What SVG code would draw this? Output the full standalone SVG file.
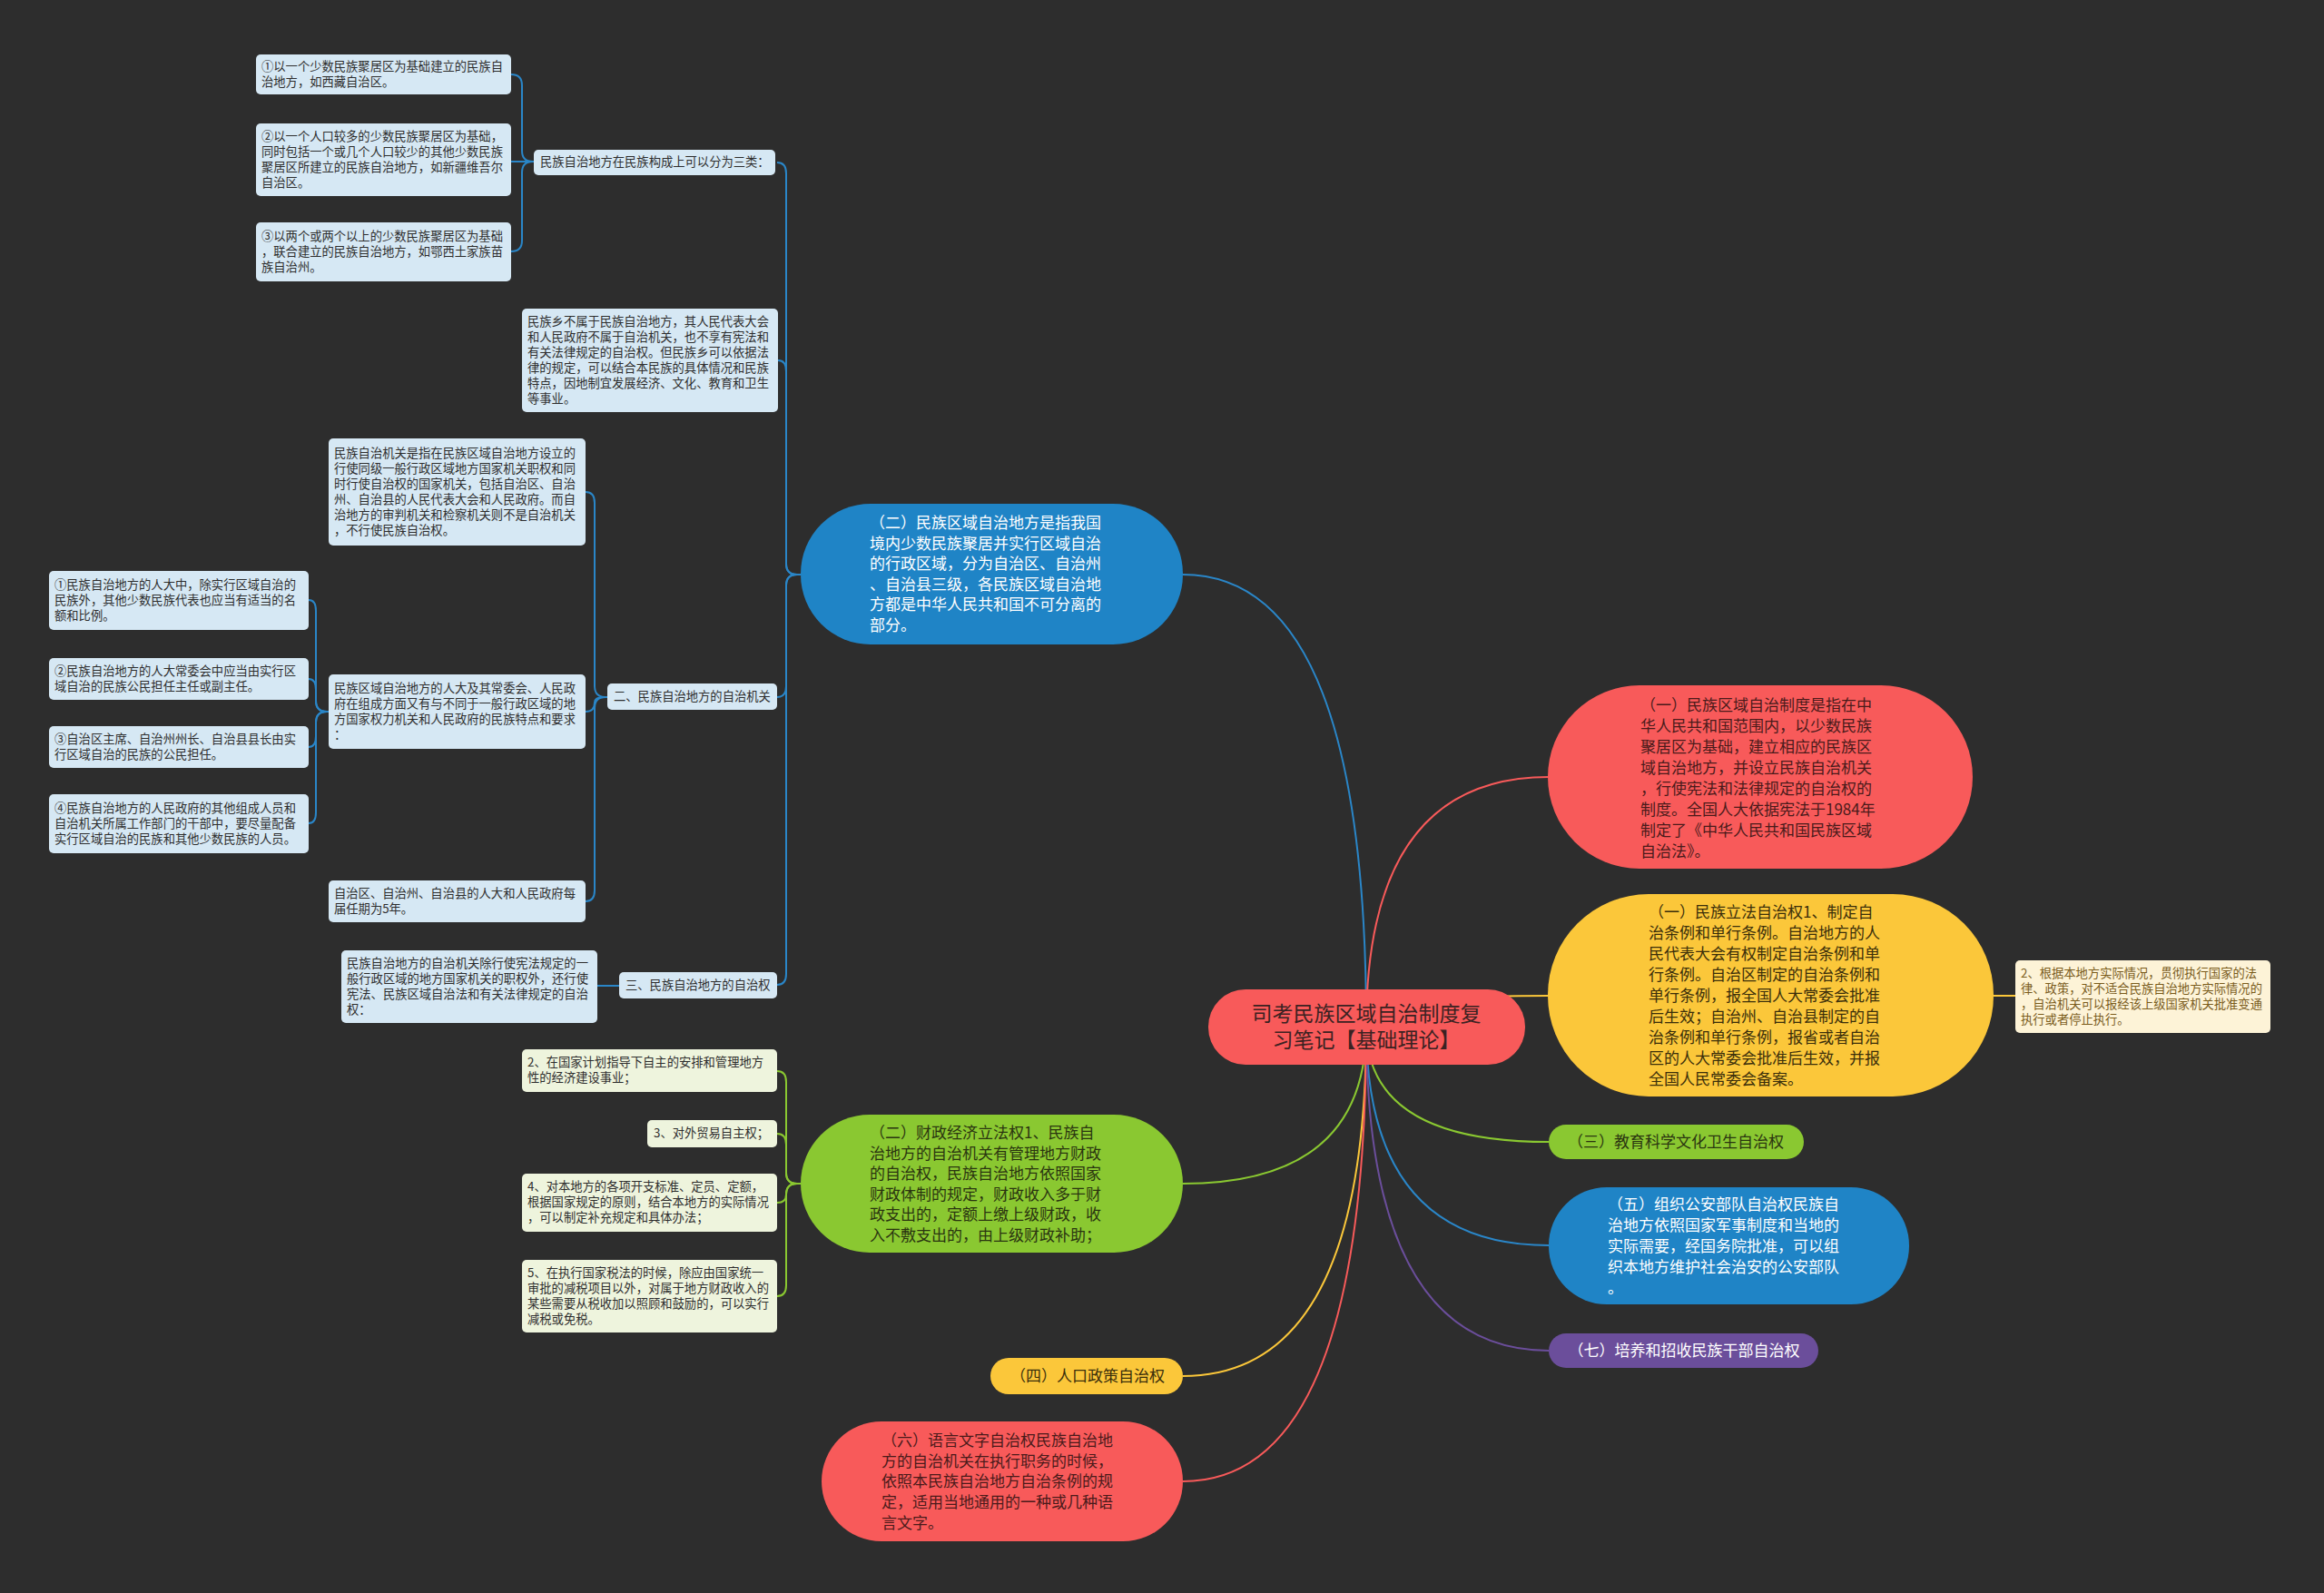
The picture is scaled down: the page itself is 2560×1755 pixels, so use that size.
<svg xmlns="http://www.w3.org/2000/svg" width="2560" height="1755" viewBox="0 0 2560 1755">
<style>
text{font-family:"Noto Sans CJK SC","Noto Sans",sans-serif}
.lb{fill:#d6e8f4}
.lg{fill:#eef4dd}
.t13{font-size:13.3px;fill:#2e2e2e}
.t17{font-size:17px}
.cb{fill:none;stroke:#2a86c8;stroke-width:2}
.cg{fill:none;stroke:#8ac831;stroke-width:2}
.cy{fill:none;stroke:#fbc73a;stroke-width:2}
.cr{fill:none;stroke:#f85a5a;stroke-width:2}
.cp{fill:none;stroke:#6b4e9b;stroke-width:2}
</style>
<rect x="0" y="0" width="2560" height="1755" fill="#2d2d2d"/>
<g id="connectors">
<path class="cb" d="M1505,1131 Q1505,633 1303,633"/>
<path class="cg" d="M1505,1131 Q1505,1304 1303,1304"/>
<path class="cy" d="M1505,1131 Q1505,1516 1303,1516"/>
<path class="cr" d="M1505,1131 Q1505,1632 1303,1632"/>
<path class="cr" d="M1505,1131 Q1505,856 1706,856"/>
<path class="cy" d="M1505,1131 Q1505,1097 1706,1097"/>
<path class="cg" d="M1505,1131 Q1505,1258 1706,1258"/>
<path class="cb" d="M1505,1131 Q1505,1372 1706,1372"/>
<path class="cp" d="M1505,1131 Q1505,1488 1706,1488"/>
<path class="cy" d="M2196,1097 L2220,1097"/>
<path class="cb" d="M856,179 Q866,179 866,191 L866,621 Q866,633 878,633 L882,633"/>
<path class="cb" d="M857,397 Q866,397 866,409 L866,621 Q866,633 878,633 L882,633"/>
<path class="cb" d="M856,768 Q866,768 866,756 L866,645 Q866,633 878,633 L882,633"/>
<path class="cb" d="M856,1085 Q866,1085 866,1073 L866,645 Q866,633 878,633 L882,633"/>
<path class="cb" d="M563,82 Q575,82 575,94 L575,166 Q575,178 587,178 L588,178"/>
<path class="cb" d="M563,178 L588,178"/>
<path class="cb" d="M563,277 Q575,277 575,265 L575,190 Q575,178 587,178 L588,178"/>
<path class="cb" d="M645,542 Q655,542 655,554 L655,756 Q655,768 667,768 L669,768"/>
<path class="cb" d="M645,784 Q655,784 655,774 Q655,768 665,768 L669,768"/>
<path class="cb" d="M645,993 Q655,993 655,981 L655,780 Q655,768 667,768 L669,768"/>
<path class="cb" d="M340,661 Q348,661 348,673 L348,772 Q348,784 360,784 L362,784"/>
<path class="cb" d="M340,748 Q348,748 348,760 L348,772 Q348,784 360,784 L362,784"/>
<path class="cb" d="M340,823 Q348,823 348,811 L348,796 Q348,784 360,784 L362,784"/>
<path class="cb" d="M340,907 Q348,907 348,895 L348,796 Q348,784 360,784 L362,784"/>
<path class="cb" d="M658,1086 L682,1086"/>
<path class="cg" d="M856,1180 Q866,1180 866,1192 L866,1292 Q866,1304 878,1304 L882,1304"/>
<path class="cg" d="M856,1249 Q866,1249 866,1261 L866,1292 Q866,1304 878,1304 L882,1304"/>
<path class="cg" d="M856,1325 Q866,1325 866,1316 Q866,1304 878,1304 L882,1304"/>
<path class="cg" d="M856,1428 Q866,1428 866,1416 L866,1316 Q866,1304 878,1304 L882,1304"/>
</g>
<g id="root">
<rect x="1331" y="1090" width="349" height="83" rx="41" fill="#f85a5a"/>
<text x="1505" y="1125" font-size="23" fill="#3b2222" text-anchor="middle">司考民族区域自治制度复</text>
<text x="1505" y="1154" font-size="23" fill="#3b2222" text-anchor="middle">习笔记【基础理论】</text>
</g>
<g id="n-blue-main">
<rect x="882" y="555" width="421" height="155" rx="77" fill="#1f84c6"/>
<text class="t17" fill="#ffffff" x="958" y="582">（二）民族区域自治地方是指我国</text>
<text class="t17" fill="#ffffff" x="958" y="604.5">境内少数民族聚居并实行区域自治</text>
<text class="t17" fill="#ffffff" x="958" y="627">的行政区域，分为自治区、自治州</text>
<text class="t17" fill="#ffffff" x="958" y="649.5">、自治县三级，各民族区域自治地</text>
<text class="t17" fill="#ffffff" x="958" y="672">方都是中华人民共和国不可分离的</text>
<text class="t17" fill="#ffffff" x="958" y="694.5">部分。</text>
</g>
<g id="p1">
<rect class="lb" x="588" y="165" width="266" height="28" rx="5"/>
<text class="t13" x="595" y="183">民族自治地方在民族构成上可以分为三类：</text>
</g>
<g id="l1">
<rect class="lb" x="282" y="60" width="281" height="44" rx="5"/>
<text class="t13" x="288" y="78">①以一个少数民族聚居区为基础建立的民族自</text>
<text class="t13" x="288" y="95">治地方，如西藏自治区。</text>
</g>
<g id="l2">
<rect class="lb" x="282" y="136" width="281" height="80" rx="5"/>
<text class="t13" x="288" y="155">②以一个人口较多的少数民族聚居区为基础，</text>
<text class="t13" x="288" y="172">同时包括一个或几个人口较少的其他少数民族</text>
<text class="t13" x="288" y="189">聚居区所建立的民族自治地方，如新疆维吾尔</text>
<text class="t13" x="288" y="206">自治区。</text>
</g>
<g id="l3">
<rect class="lb" x="282" y="245" width="281" height="65" rx="5"/>
<text class="t13" x="288" y="265">③以两个或两个以上的少数民族聚居区为基础</text>
<text class="t13" x="288" y="282">，联合建立的民族自治地方，如鄂西土家族苗</text>
<text class="t13" x="288" y="299">族自治州。</text>
</g>
<g id="n1">
<rect class="lb" x="575" y="340" width="282" height="114" rx="5"/>
<text class="t13" x="581" y="359">民族乡不属于民族自治地方，其人民代表大会</text>
<text class="t13" x="581" y="376">和人民政府不属于自治机关，也不享有宪法和</text>
<text class="t13" x="581" y="393">有关法律规定的自治权。但民族乡可以依据法</text>
<text class="t13" x="581" y="410">律的规定，可以结合本民族的具体情况和民族</text>
<text class="t13" x="581" y="427">特点，因地制宜发展经济、文化、教育和卫生</text>
<text class="t13" x="581" y="444">等事业。</text>
</g>
<g id="n2">
<rect class="lb" x="362" y="483" width="283" height="118" rx="5"/>
<text class="t13" x="368" y="504">民族自治机关是指在民族区域自治地方设立的</text>
<text class="t13" x="368" y="521">行使同级一般行政区域地方国家机关职权和同</text>
<text class="t13" x="368" y="538">时行使自治权的国家机关，包括自治区、自治</text>
<text class="t13" x="368" y="555">州、自治县的人民代表大会和人民政府。而自</text>
<text class="t13" x="368" y="572">治地方的审判机关和检察机关则不是自治机关</text>
<text class="t13" x="368" y="589">，不行使民族自治权。</text>
</g>
<g id="n3">
<rect class="lb" x="362" y="743" width="283" height="82" rx="5"/>
<text class="t13" x="368" y="763">民族区域自治地方的人大及其常委会、人民政</text>
<text class="t13" x="368" y="780">府在组成方面又有与不同于一般行政区域的地</text>
<text class="t13" x="368" y="797">方国家权力机关和人民政府的民族特点和要求</text>
<text class="t13" x="368" y="814">：</text>
</g>
<g id="s1">
<rect class="lb" x="54" y="629" width="286" height="65" rx="5"/>
<text class="t13" x="60" y="649">①民族自治地方的人大中，除实行区域自治的</text>
<text class="t13" x="60" y="666">民族外，其他少数民族代表也应当有适当的名</text>
<text class="t13" x="60" y="683">额和比例。</text>
</g>
<g id="s2">
<rect class="lb" x="54" y="725" width="286" height="46" rx="5"/>
<text class="t13" x="60" y="744">②民族自治地方的人大常委会中应当由实行区</text>
<text class="t13" x="60" y="761">域自治的民族公民担任主任或副主任。</text>
</g>
<g id="s3">
<rect class="lb" x="54" y="800" width="286" height="46" rx="5"/>
<text class="t13" x="60" y="819">③自治区主席、自治州州长、自治县县长由实</text>
<text class="t13" x="60" y="836">行区域自治的民族的公民担任。</text>
</g>
<g id="s4">
<rect class="lb" x="54" y="875" width="286" height="65" rx="5"/>
<text class="t13" x="60" y="895">④民族自治地方的人民政府的其他组成人员和</text>
<text class="t13" x="60" y="912">自治机关所属工作部门的干部中，要尽量配备</text>
<text class="t13" x="60" y="929">实行区域自治的民族和其他少数民族的人员。</text>
</g>
<g id="p2">
<rect class="lb" x="669" y="753" width="187" height="29" rx="5"/>
<text class="t13" x="676" y="772">二、民族自治地方的自治机关</text>
</g>
<g id="n4">
<rect class="lb" x="362" y="970" width="283" height="46" rx="5"/>
<text class="t13" x="368" y="989">自治区、自治州、自治县的人大和人民政府每</text>
<text class="t13" x="368" y="1006">届任期为5年。</text>
</g>
<g id="n5">
<rect class="lb" x="376" y="1047" width="282" height="80" rx="5"/>
<text class="t13" x="382" y="1066">民族自治地方的自治机关除行使宪法规定的一</text>
<text class="t13" x="382" y="1083">般行政区域的地方国家机关的职权外，还行使</text>
<text class="t13" x="382" y="1100">宪法、民族区域自治法和有关法律规定的自治</text>
<text class="t13" x="382" y="1117">权：</text>
</g>
<g id="p3">
<rect class="lb" x="682" y="1071" width="174" height="29" rx="5"/>
<text class="t13" x="689" y="1090">三、民族自治地方的自治权</text>
</g>
<g id="n-green-main">
<rect x="882" y="1228" width="421" height="152" rx="76" fill="#8ac831"/>
<text class="t17" fill="#2a3510" x="958" y="1254">（二）财政经济立法权1、民族自</text>
<text class="t17" fill="#2a3510" x="958" y="1276.5">治地方的自治机关有管理地方财政</text>
<text class="t17" fill="#2a3510" x="958" y="1299">的自治权，民族自治地方依照国家</text>
<text class="t17" fill="#2a3510" x="958" y="1321.5">财政体制的规定，财政收入多于财</text>
<text class="t17" fill="#2a3510" x="958" y="1344">政支出的，定额上缴上级财政，收</text>
<text class="t17" fill="#2a3510" x="958" y="1366.5">入不敷支出的，由上级财政补助；</text>
</g>
<g id="g2">
<rect class="lg" x="575" y="1156" width="281" height="47" rx="5"/>
<text class="t13" x="581" y="1175">2、在国家计划指导下自主的安排和管理地方</text>
<text class="t13" x="581" y="1192">性的经济建设事业；</text>
</g>
<g id="g3">
<rect class="lg" x="713" y="1234" width="143" height="30" rx="5"/>
<text class="t13" x="720" y="1253">3、对外贸易自主权；</text>
</g>
<g id="g4">
<rect class="lg" x="575" y="1293" width="281" height="64" rx="5"/>
<text class="t13" x="581" y="1312">4、对本地方的各项开支标准、定员、定额，</text>
<text class="t13" x="581" y="1329">根据国家规定的原则，结合本地方的实际情况</text>
<text class="t13" x="581" y="1346">，可以制定补充规定和具体办法；</text>
</g>
<g id="g5">
<rect class="lg" x="575" y="1388" width="281" height="80" rx="5"/>
<text class="t13" x="581" y="1407">5、在执行国家税法的时候，除应由国家统一</text>
<text class="t13" x="581" y="1424">审批的减税项目以外，对属于地方财政收入的</text>
<text class="t13" x="581" y="1441">某些需要从税收加以照顾和鼓励的，可以实行</text>
<text class="t13" x="581" y="1458">减税或免税。</text>
</g>
<g id="n-yellow-4">
<rect x="1091" y="1496" width="212" height="40" rx="20" fill="#fbc73a"/>
<text class="t17" fill="#3a2e0a" x="1198" y="1522" text-anchor="middle">（四）人口政策自治权</text>
</g>
<g id="n-red-6">
<rect x="905" y="1566" width="398" height="132" rx="66" fill="#f85a5a"/>
<text class="t17" fill="#4a1a1a" x="971" y="1593">（六）语言文字自治权民族自治地</text>
<text class="t17" fill="#4a1a1a" x="971" y="1616">方的自治机关在执行职务的时候，</text>
<text class="t17" fill="#4a1a1a" x="971" y="1638">依照本民族自治地方自治条例的规</text>
<text class="t17" fill="#4a1a1a" x="971" y="1661">定，适用当地通用的一种或几种语</text>
<text class="t17" fill="#4a1a1a" x="971" y="1684">言文字。</text>
</g>
<g id="n-red-1">
<rect x="1705" y="755" width="468" height="202" rx="101" fill="#f85a5a"/>
<text class="t17" fill="#4a1a1a" x="1807" y="783">（一）民族区域自治制度是指在中</text>
<text class="t17" fill="#4a1a1a" x="1807" y="806">华人民共和国范围内，以少数民族</text>
<text class="t17" fill="#4a1a1a" x="1807" y="829">聚居区为基础，建立相应的民族区</text>
<text class="t17" fill="#4a1a1a" x="1807" y="852">域自治地方，并设立民族自治机关</text>
<text class="t17" fill="#4a1a1a" x="1807" y="875">，行使宪法和法律规定的自治权的</text>
<text class="t17" fill="#4a1a1a" x="1807" y="898">制度。全国人大依据宪法于1984年</text>
<text class="t17" fill="#4a1a1a" x="1807" y="921">制定了《中华人民共和国民族区域</text>
<text class="t17" fill="#4a1a1a" x="1807" y="944">自治法》。</text>
</g>
<g id="n-yellow-1">
<rect x="1705" y="985" width="491" height="223" rx="111" fill="#fbc73a"/>
<text class="t17" fill="#3a2e0a" x="1816" y="1011">（一）民族立法自治权1、制定自</text>
<text class="t17" fill="#3a2e0a" x="1816" y="1034">治条例和单行条例。自治地方的人</text>
<text class="t17" fill="#3a2e0a" x="1816" y="1057">民代表大会有权制定自治条例和单</text>
<text class="t17" fill="#3a2e0a" x="1816" y="1080">行条例。自治区制定的自治条例和</text>
<text class="t17" fill="#3a2e0a" x="1816" y="1103">单行条例，报全国人大常委会批准</text>
<text class="t17" fill="#3a2e0a" x="1816" y="1126">后生效；自治州、自治县制定的自</text>
<text class="t17" fill="#3a2e0a" x="1816" y="1149">治条例和单行条例，报省或者自治</text>
<text class="t17" fill="#3a2e0a" x="1816" y="1172">区的人大常委会批准后生效，并报</text>
<text class="t17" fill="#3a2e0a" x="1816" y="1195">全国人民常委会备案。</text>
</g>
<g id="side-note">
<rect x="2220" y="1058" width="281" height="80" rx="5" fill="#fdf3d7"/>
<text class="t13" x="2226" y="1077" style="fill:#7a5c1c">2、根据本地方实际情况，贯彻执行国家的法</text>
<text class="t13" x="2226" y="1094" style="fill:#7a5c1c">律、政策，对不适合民族自治地方实际情况的</text>
<text class="t13" x="2226" y="1111" style="fill:#7a5c1c">，自治机关可以报经该上级国家机关批准变通</text>
<text class="t13" x="2226" y="1128" style="fill:#7a5c1c">执行或者停止执行。</text>
</g>
<g id="n-green-3">
<rect x="1706" y="1239" width="281" height="38" rx="19" fill="#8ac831"/>
<text class="t17" fill="#2a3510" x="1846" y="1264" text-anchor="middle">（三）教育科学文化卫生自治权</text>
</g>
<g id="n-blue-5">
<rect x="1706" y="1308" width="397" height="129" rx="64" fill="#1f84c6"/>
<text class="t17" fill="#ffffff" x="1771" y="1333">（五）组织公安部队自治权民族自</text>
<text class="t17" fill="#ffffff" x="1771" y="1356">治地方依照国家军事制度和当地的</text>
<text class="t17" fill="#ffffff" x="1771" y="1379">实际需要，经国务院批准，可以组</text>
<text class="t17" fill="#ffffff" x="1771" y="1402">织本地方维护社会治安的公安部队</text>
<text class="t17" fill="#ffffff" x="1771" y="1425">。</text>
</g>
<g id="n-purple-7">
<rect x="1706" y="1469" width="297" height="38" rx="19" fill="#6b4e9b"/>
<text class="t17" fill="#ffffff" x="1855" y="1494" text-anchor="middle">（七）培养和招收民族干部自治权</text>
</g>
</svg>
